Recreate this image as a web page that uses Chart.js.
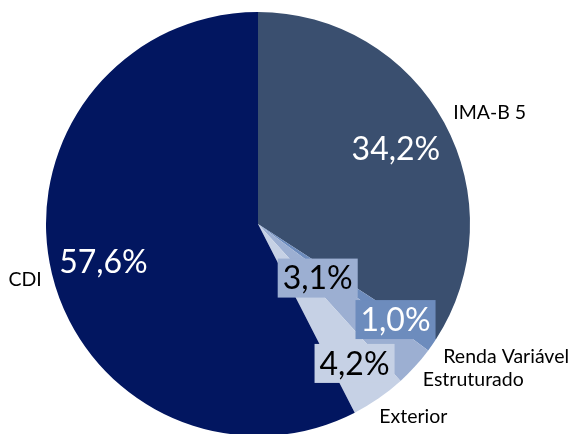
<!DOCTYPE html>
<html>
<head>
<meta charset="utf-8">
<script src="https://cdn.jsdelivr.net/npm/chart.js@4.4.1/dist/chart.umd.min.js"></script>
<style>
  html, body { margin: 0; padding: 0; background: #ffffff; overflow: hidden; }
  #wrap { position: absolute; left: 0; top: 0; width: 573px; height: 436px; }
</style>
</head>
<body>
<div id="wrap"><canvas id="c" width="573" height="436"></canvas></div>
<script>
// ---- data ----
const categories = ['IMA-B 5', 'Renda Variável', 'Estruturado', 'Exterior', 'CDI'];
const shares = [34.2, 1.0, 3.1, 4.2, 57.6];

// ---- styles ----
const sliceColors = ['#3a4f6f', '#6d8cbd', '#9cafd2', '#c6d1e5', '#021660'];
const valueTextColors = ['#ffffff', '#ffffff', '#000000', '#000000', '#ffffff'];
const valueBoxed = [false, true, true, true, false];
// label placement: radius factor along slice mid-angle, angle tweak (deg)
const valueRadius = [0.74, 0.79, 0.38, 0.80, 0.75];
const nameRadius = [1.213, 1.327, 1.253, 1.167, 1.129];
const nameAngle = [2.8, -6.7, -6.3, -4.2, 0.2];

const FONT = 'Lato, "Open Sans", sans-serif';

const labelPlugin = {
  id: 'pieLabels',
  afterDatasetsDraw(chart) {
    const ctx = chart.ctx;
    const meta = chart.getDatasetMeta(0);
    meta.data.forEach((arc, i) => {
      const p = arc.getProps(['x', 'y', 'startAngle', 'endAngle', 'outerRadius'], true);
      const mid = (p.startAngle + p.endAngle) / 2;
      // value label
      const vx = p.x + Math.cos(mid) * p.outerRadius * valueRadius[i];
      const vy = p.y + Math.sin(mid) * p.outerRadius * valueRadius[i];
      const txt = shares[i].toFixed(1).replace('.', ',') + '%';
      ctx.save();
      ctx.font = '32px ' + FONT;
      ctx.textAlign = 'center';
      ctx.textBaseline = 'middle';
      if (valueBoxed[i]) {
        const w = ctx.measureText(txt).width + 10;
        const h = 39;
        ctx.fillStyle = sliceColors[i];
        ctx.fillRect(vx - w / 2, vy - h / 2, w, h);
      }
      ctx.fillStyle = valueTextColors[i];
      ctx.fillText(txt, vx, vy + 1);
      // name label
      const a = mid + nameAngle[i] * Math.PI / 180;
      const nx = p.x + Math.cos(a) * p.outerRadius * nameRadius[i];
      const ny = p.y + Math.sin(a) * p.outerRadius * nameRadius[i];
      ctx.font = '19.5px ' + FONT;
      ctx.fillStyle = '#000000';
      ctx.fillText(categories[i], nx, ny);
      ctx.restore();
    });
  }
};

new Chart(document.getElementById('c'), {
  type: 'pie',
  data: {
    labels: categories,
    datasets: [{
      data: shares,
      backgroundColor: sliceColors,
      borderWidth: 0
    }]
  },
  options: {
    responsive: false,
    animation: false,
    devicePixelRatio: 1,
    layout: { padding: { top: 12, left: 0, right: 57, bottom: 0 } },
    plugins: { legend: { display: false }, tooltip: { enabled: false } }
  },
  plugins: [labelPlugin]
});
</script>
</body>
</html>
